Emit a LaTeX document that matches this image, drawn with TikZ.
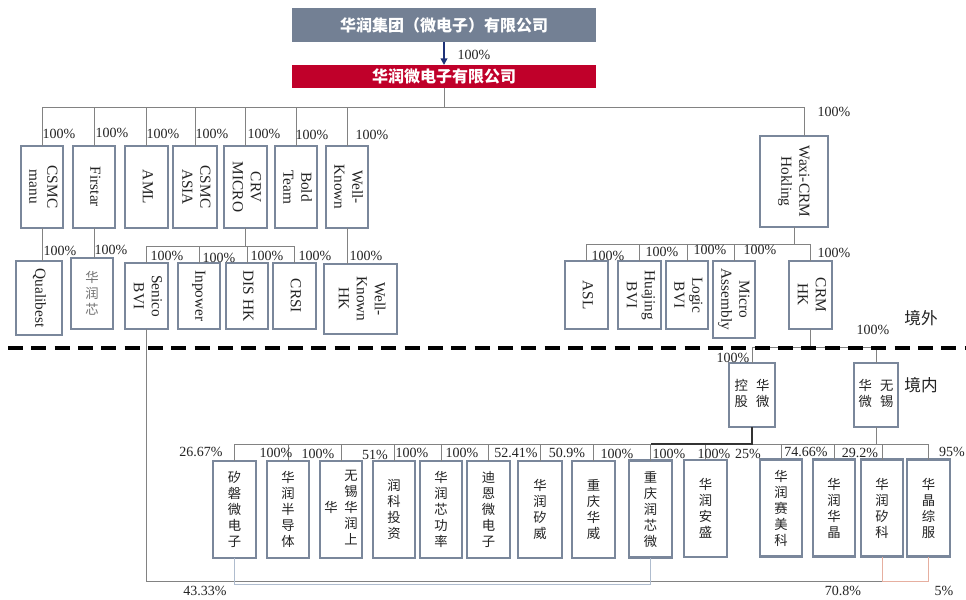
\documentclass[tikz,border=0pt]{standalone}
\usepackage{fontspec}
\setmainfont{Liberation Serif}
\newfontfamily\cjk{Noto Sans CJK SC}
\usetikzlibrary{arrows.meta,calc}
\definecolor{topgray}{RGB}{115,128,148}
\definecolor{crred}{RGB}{192,0,42}
\definecolor{bord}{RGB}{122,135,155}
\definecolor{lgray}{RGB}{130,130,130}
\definecolor{navy}{RGB}{30,50,120}
\definecolor{pinkl}{RGB}{230,175,160}
\definecolor{lblue}{RGB}{175,188,206}
\definecolor{txt}{RGB}{35,35,35}
\newcommand{\rv}[1]{\rotatebox{-90}{\begin{tabular}{@{}c@{}}#1\end{tabular}}}
\begin{document}
\begin{tikzpicture}[x=0.75pt,y=-0.75pt,
  every node/.style={inner sep=0pt,outer sep=0pt},
  sz/.style 2 args={minimum width=#1*0.75pt,minimum height=#2*0.75pt},
  bx/.style={draw=bord,line width=1.8pt,fill=white,text=txt,font=\fontsize{11.5}{13.5}\selectfont},
  cbx/.style={bx,font=\cjk\fontsize{10}{12}\selectfont,align=center},
  pct/.style={text=txt,font=\fontsize{10.5}{12}\selectfont},
  conn/.style={draw=lgray,line width=0.75pt},
  darkconn/.style={draw=black!80,line width=1.4pt},
  pinkconn/.style={draw=pinkl,line width=0.75pt},
  blueconn/.style={draw=lblue,line width=0.75pt},
  area/.style={text=txt,font=\cjk\fontsize{12.5}{14}\selectfont}]
\useasboundingbox (0,0) rectangle (966,599);
\fill[white] (0,0) rectangle (966,599);

% top
\node[fill=topgray,sz={304}{34},text=white,font=\cjk\bfseries\fontsize{12}{14}\selectfont] (grp) at (444,25) {华润集团（微电子）有限公司};
\node[fill=crred,sz={304}{23},text=white,font=\cjk\bfseries\fontsize{12}{14}\selectfont] (crm) at (444,76.5) {华润微电子有限公司};
\draw[navy,line width=1.5pt,-{Triangle[length=5pt,width=5pt]}] (grp.south) -- (crm.north);
\node[pct] (p0) at (474,55) {100\%};

% first row
\node[bx,sz={42}{82}] (csmcmanu) at (42,187) {\rv{CSMC\\manu}};
\node[bx,sz={42}{82}] (firstar) at (94,187) {\rv{Firstar}};
\node[bx,sz={43}{82}] (aml) at (146.5,187) {\rv{AML}};
\node[bx,sz={44}{82}] (csmcasia) at (195,187) {\rv{CSMC\\ASIA}};
\node[bx,sz={43}{82}] (crvmicro) at (245.5,187) {\rv{CRV\\MICRO}};
\node[bx,sz={42}{82}] (boldteam) at (296,187) {\rv{Bold\\Team}};
\node[bx,sz={42}{82}] (wellknown) at (347,187) {\rv{Well-\\Known}};
\node[bx,sz={68}{91}] (waxi) at (794,181.5) {\rv{Waxi-CRM\\Hokling}};

\coordinate (b0) at (442,108);
\draw[conn] (crm.south) -- (crm.south |- b0);
\draw[conn] ($(waxi.north)+(10,0)$) |- (csmcmanu.north |- b0);
\foreach \n in {csmcmanu,firstar,aml,csmcasia,crvmicro,boldteam,wellknown}
  \draw[conn] (\n.north) -- (\n.north |- b0);

\node[pct] (p1) at (59,134) {100\%};
\node[pct] (p2) at (112,133) {100\%};
\node[pct] (p3) at (163,134) {100\%};
\node[pct] (p4) at (212,134) {100\%};
\node[pct] (p5) at (264,134) {100\%};
\node[pct] (p6) at (312,135) {100\%};
\node[pct] (p7) at (372,135) {100\%};
\node[pct] (p8) at (834,112) {100\%};

% second row left
\node[bx,sz={46}{74}] (qualibest) at (39,298) {\rv{Qualibest}};
\node[cbx,sz={42}{71},text=black!55] (hrx) at (92,293.5) {华\\润\\芯};
\node[bx,sz={43}{66}] (senico) at (146.5,296) {\rv{Senico\\BVI}};
\node[bx,sz={42}{66}] (inpower) at (199,296) {\rv{Inpower}};
\node[bx,sz={42}{66}] (dishk) at (247,296) {\rv{DIS HK}};
\node[bx,sz={43}{66}] (crsi) at (294.5,296) {\rv{CRSI}};
\node[bx,sz={73}{70}] (wkhk) at (360.5,299) {\rv{Well-\\Known\\HK}};

\draw[conn] (csmcmanu.south) -- (csmcmanu.south |- qualibest.north);
\draw[conn] (firstar.south) -- (firstar.south |- hrx.north);
\draw[conn] (wellknown.south) -- (wellknown.south |- wkhk.north);
\coordinate (b1) at (245,246);
\draw[conn] (crvmicro.south) -- (crvmicro.south |- b1);
\draw[conn] (senico.north |- b1) -- (crsi.north |- b1);
\foreach \n in {senico,inpower,dishk,crsi}
  \draw[conn] (\n.north) -- (\n.north |- b1);

\node[pct] (p9) at (60,251) {100\%};
\node[pct] (p10) at (111,250) {100\%};
\node[pct] (p11) at (167,256) {100\%};
\node[pct] (p12) at (219,258) {100\%};
\node[pct] (p13) at (267,256) {100\%};
\node[pct] (p14) at (315,256) {100\%};
\node[pct] (p15) at (366,256) {100\%};

% second row right
\node[bx,sz={43}{68}] (asl) at (586.5,295) {\rv{ASL}};
\node[bx,sz={43}{68}] (huajing) at (639.5,295) {\rv{Huajing\\BVI}};
\node[bx,sz={42}{68}] (logic) at (687,295) {\rv{Logic\\BVI}};
\node[bx,sz={42}{77}] (micro) at (734,299.5) {\rv{Micro\\Assembly}};
\node[bx,sz={43}{68}] (crmhk) at (810.5,295) {\rv{CRM\\HK}};

\coordinate (b2) at (794,244);
\draw[conn] (waxi.south) -- (waxi.south |- b2);
\draw[conn] (asl.north |- b2) -- (crmhk.north |- b2);
\foreach \n in {asl,huajing,logic,micro,crmhk}
  \draw[conn] (\n.north) -- (\n.north |- b2);

\node[pct] (p16) at (608,256) {100\%};
\node[pct] (p17) at (662,252) {100\%};
\node[pct] (p18) at (710,250) {100\%};
\node[pct] (p19) at (760,250) {100\%};
\node[pct] (p20) at (834,253) {100\%};

% domestic holding level
\node[cbx,sz={46}{64}] (hwkg) at (752,395) {\begin{tabular}{@{}c@{\hspace{6pt}}c@{}}控&华\\股&微\end{tabular}};
\node[cbx,sz={44}{64}] (wxhw) at (876,395) {\begin{tabular}{@{}c@{\hspace{6pt}}c@{}}华&无\\微&锡\end{tabular}};

\coordinate (b3) at (811,347);
\draw[conn] (crmhk.south) -- (crmhk.south |- b3);
\draw[conn] (hwkg.north |- b3) -- (wxhw.north |- b3);
\foreach \n in {hwkg,wxhw}
  \draw[conn] (\n.north) -- (\n.north |- b3);
\node[pct] (p21) at (873,330) {100\%};
\node[pct] (p22) at (733,358) {100\%};

% bottom row
\node[cbx,sz={43}{97}] (xipan) at (234.5,509.5) {矽\\磐\\微\\电\\子};
\node[cbx,sz={42}{97}] (hrbdt) at (288,509.5) {华\\润\\半\\导\\体};
\node[cbx,sz={42}{97}] (wxhrsh) at (341,509.5) {\begin{tabular}{@{}c@{\hspace{5pt}}c@{}}&无\\&锡\\华&华\\&润\\&上\end{tabular}};
\node[cbx,sz={42}{97}] (rkt) at (394,509.5) {润\\科\\投\\资};
\node[cbx,sz={42}{97}] (hrxgl) at (441,509.5) {华\\润\\芯\\功\\率};
\node[cbx,sz={43}{97}] (dnwdz) at (488.5,509.5) {迪\\恩\\微\\电\\子};
\node[cbx,sz={44}{97}] (hrxw) at (540,509.5) {华\\润\\矽\\威};
\node[cbx,sz={43}{97}] (cqhw) at (593.5,509.5) {重\\庆\\华\\威};
\node[cbx,sz={43}{97}] (cqrxw) at (650.5,509) {重\\庆\\润\\芯\\微};
\node[cbx,sz={43}{97}] (hras) at (705.5,508.5) {华\\润\\安\\盛};
\node[cbx,sz={42}{97}] (hrsmk) at (781,508) {华\\润\\赛\\美\\科};
\node[cbx,sz={42}{97}] (hrhj) at (834,508) {华\\润\\华\\晶};
\node[cbx,sz={42}{97}] (hrxk) at (882,508) {华\\润\\矽\\科};
\node[cbx,sz={43}{97}] (hjzf) at (928.5,508) {华\\晶\\综\\服};

\coordinate (b4) at (753,444);
\draw[conn] (xipan.north |- b4) -- (hjzf.north |- b4);
\foreach \n in {xipan,hrbdt,wxhrsh,rkt,hrxgl,dnwdz,hrxw,cqhw,cqrxw,hras,hrsmk,hrhj,hrxk,hjzf}
  \draw[conn] (\n.north) -- (\n.north |- b4);
\draw[conn] (wxhw.south) -- (wxhw.south |- b4);
\draw[darkconn] (hwkg.south) |- (cqrxw.north |- b4);

% bottom loops
\coordinate (b5) at (500,581);
\coordinate (b6) at (500,584);
\draw[conn] (senico.south) |- (hrxk.south |- b5);
\draw[pinkconn] (hrxk.south) -- (hrxk.south |- b5) -- (hjzf.south |- b5) -- (hjzf.south);
\draw[blueconn] (xipan.south) -- (xipan.south |- b6) -- (cqrxw.south |- b6) -- (cqrxw.south);

\node[pct] (q1) at (201,452) {26.67\%};
\node[pct] (q2) at (276,453) {100\%};
\node[pct] (q3) at (318,454) {100\%};
\node[pct] (q4) at (375,455) {51\%};
\node[pct] (q5) at (412,453) {100\%};
\node[pct] (q6) at (462,453) {100\%};
\node[pct] (q7) at (516,453) {52.41\%};
\node[pct] (q8) at (567,453) {50.9\%};
\node[pct] (q9) at (617,454) {100\%};
\node[pct] (q10) at (669,454) {100\%};
\node[pct] (q11) at (714,454) {100\%};
\node[pct] (q12) at (748,454) {25\%};
\node[pct] (q13) at (806,452) {74.66\%};
\node[pct] (q14) at (860,453) {29.2\%};
\node[pct] (q15) at (952,452) {95\%};
\node[pct] (q16) at (205,591) {43.33\%};
\node[pct] (q17) at (843,591) {70.8\%};
\node[pct] (q18) at (944,591) {5\%};

% border line
\coordinate (d0) at (8,348);
\coordinate (d1) at (966,348);
\draw[black,line width=3pt,dash pattern=on 11.25pt off 6.25pt] (d0) -- (d1);
\node[area] (jw) at (921,318) {境外};
\node[area] (jn) at (921,385) {境内};
\end{tikzpicture}
\end{document}
